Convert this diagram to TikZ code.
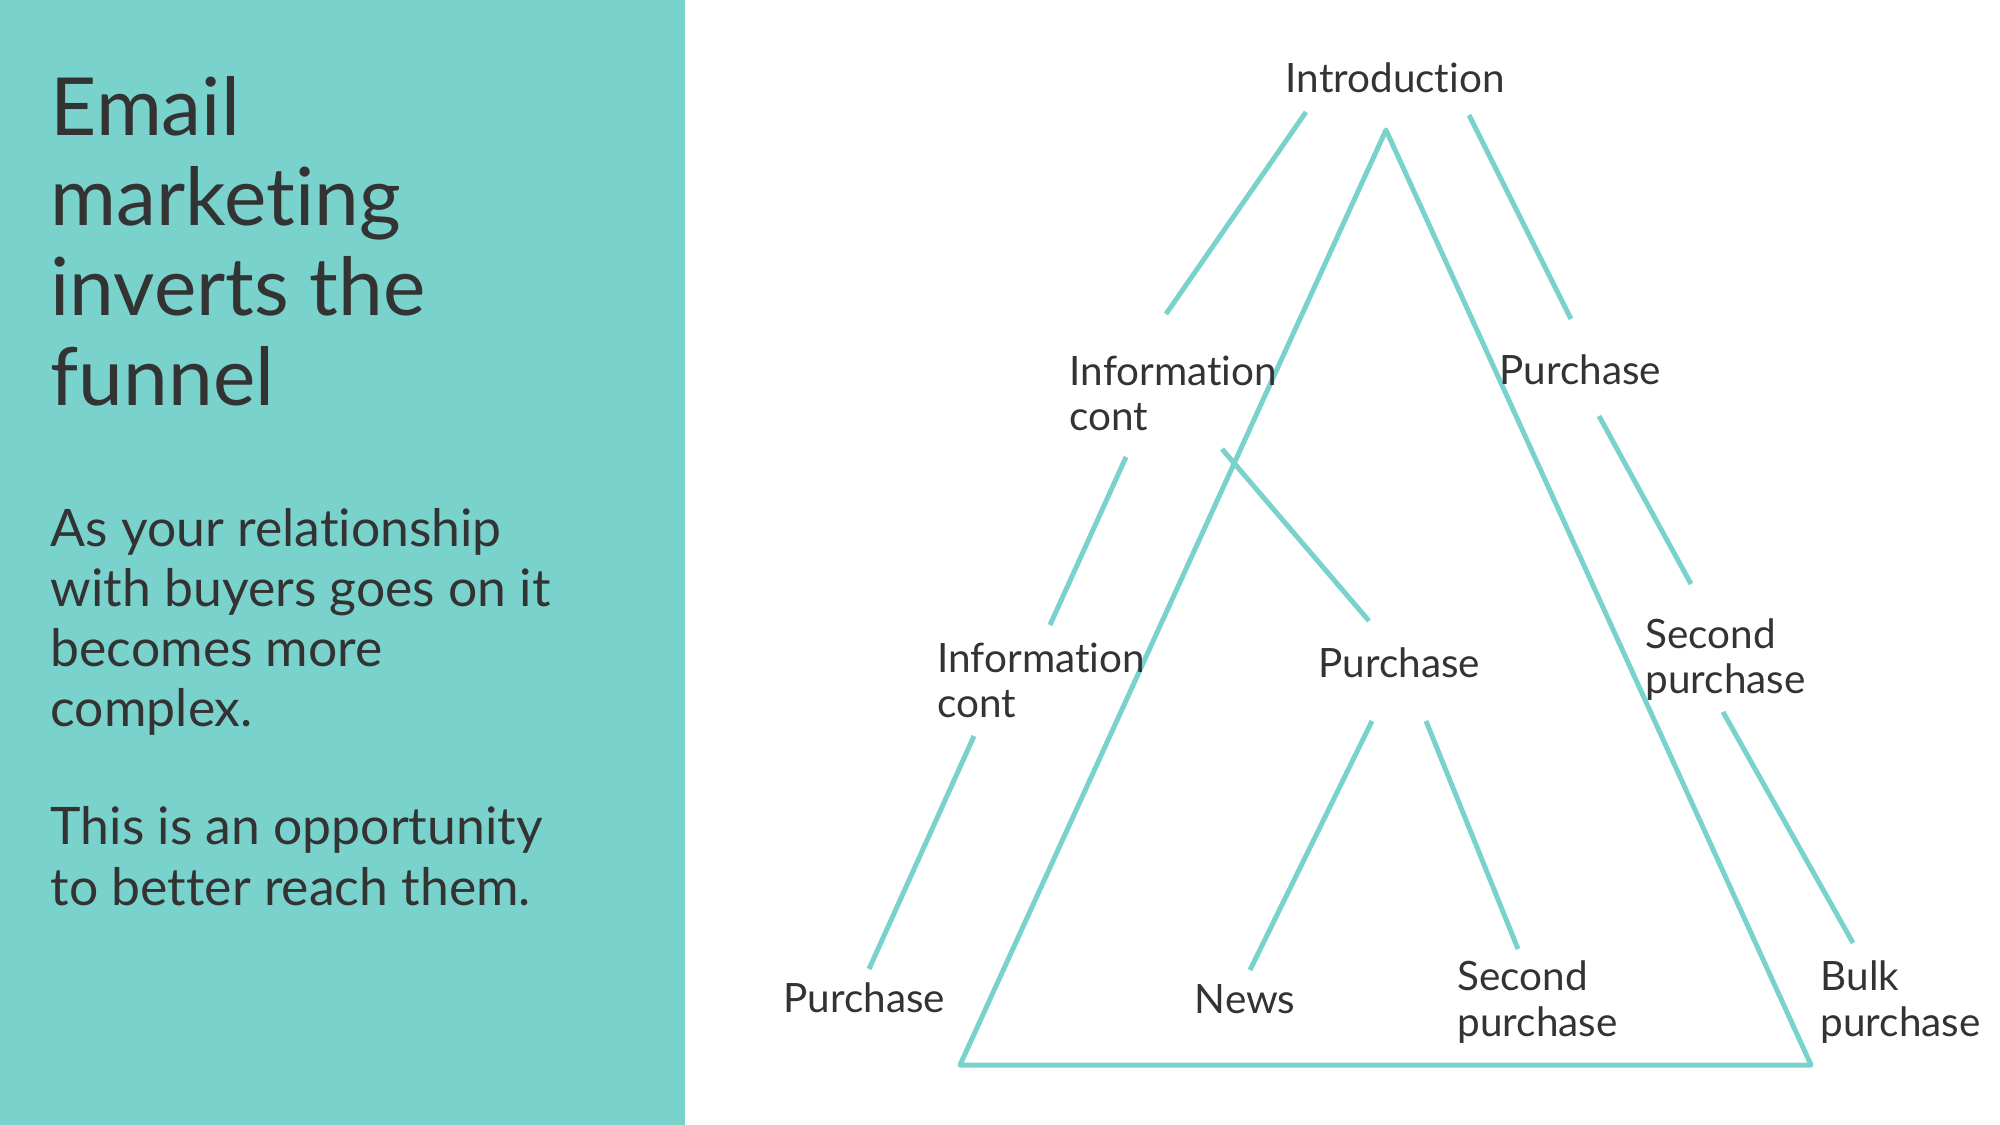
\documentclass[tikz,border=0pt]{standalone}
\usepackage{fontspec}
\setmainfont{Lato}[Ligatures=CommonOff]
\usepackage{xcolor}
\definecolor{funnelteal}{HTML}{79D2CC}
\definecolor{inkgray}{HTML}{333333}

\tikzset{
  branch/.style={funnelteal, line width=0.05cm},
  stage/.style={font=\fontsize{11.5}{12.8}\selectfont, text=inkgray,
                anchor=base west, inner sep=0pt, align=left},
}

\begin{document}
\begin{tikzpicture}[x=0.01cm, y=-0.01cm]
  \useasboundingbox (0,0) rectangle (2000,1125);
  \fill[funnelteal] (0,0) rectangle (685,1125);

  % left panel text (anchored at the last line)
  \node[font=\fontsize{22.8}{25.6}\selectfont, text=inkgray, anchor=base west,
        inner sep=0pt, align=left] (headline) at (50,406)
    {Email\\marketing\\inverts the\\funnel};
  \node[font=\fontsize{14.7}{17.1}\selectfont, text=inkgray, anchor=base west,
        inner sep=0pt, align=left] (paraA) at (50,727)
    {As your relationship\\with buyers goes on it\\becomes more\\complex.};
  \node[font=\fontsize{14.7}{17.1}\selectfont, text=inkgray, anchor=base west,
        inner sep=0pt, align=left] (paraB) at (50,905)
    {This is an opportunity\\to better reach them.};

  % funnel, upside down
  \coordinate (apex) at (1386,130);
  \coordinate (baseL) at (960,1065);
  \coordinate (baseR) at (1811,1065);
  \draw[branch, line join=round] (apex) -- (baseR) -- (baseL) -- cycle;

  % stages
  \node[stage] (intro) at (1285,93) {Introduction};
  \node[stage] (infoA) at (1069,431) {Information\\cont};
  \node[stage] (buyA) at (1499,385) {Purchase};
  \node[stage] (infoB) at (937,718) {Information\\cont};
  \node[stage] (buyB) at (1318,678) {Purchase};
  \node[stage] (secondA) at (1645,694) {Second\\purchase};
  \node[stage] (buyC) at (783,1012) {Purchase};
  \node[stage] (news) at (1194,1013) {News};
  \node[stage] (secondB) at (1457,1036) {Second\\purchase};
  \node[stage] (bulk) at (1820,1036) {Bulk\\purchase};

  % branch ends
  \coordinate (introL) at (1306,112);  \coordinate (infoAtop) at (1166,314);
  \coordinate (introR) at (1469,115);  \coordinate (buyAtop) at (1571,319);
  \coordinate (infoAL) at (1126,457);  \coordinate (infoBtop) at (1050,625);
  \coordinate (infoAR) at (1222,449);  \coordinate (buyBtop) at (1369,621);
  \coordinate (buyAlow) at (1599,416); \coordinate (secondAtop) at (1691,584);
  \coordinate (infoBlow) at (974,736); \coordinate (buyCtop) at (869,969);
  \coordinate (buyBL) at (1372,721);   \coordinate (newstop) at (1250,970);
  \coordinate (buyBR) at (1426,721);   \coordinate (secondBtop) at (1518,949);
  \coordinate (secondAlow) at (1723,712); \coordinate (bulktop) at (1853,943);

  \draw[branch] (introL) -- (infoAtop);
  \draw[branch] (introR) -- (buyAtop);
  \draw[branch] (infoAL) -- (infoBtop);
  \draw[branch] (infoAR) -- (buyBtop);
  \draw[branch] (buyAlow) -- (secondAtop);
  \draw[branch] (infoBlow) -- (buyCtop);
  \draw[branch] (buyBL) -- (newstop);
  \draw[branch] (buyBR) -- (secondBtop);
  \draw[branch] (secondAlow) -- (bulktop);
\end{tikzpicture}
\end{document}
